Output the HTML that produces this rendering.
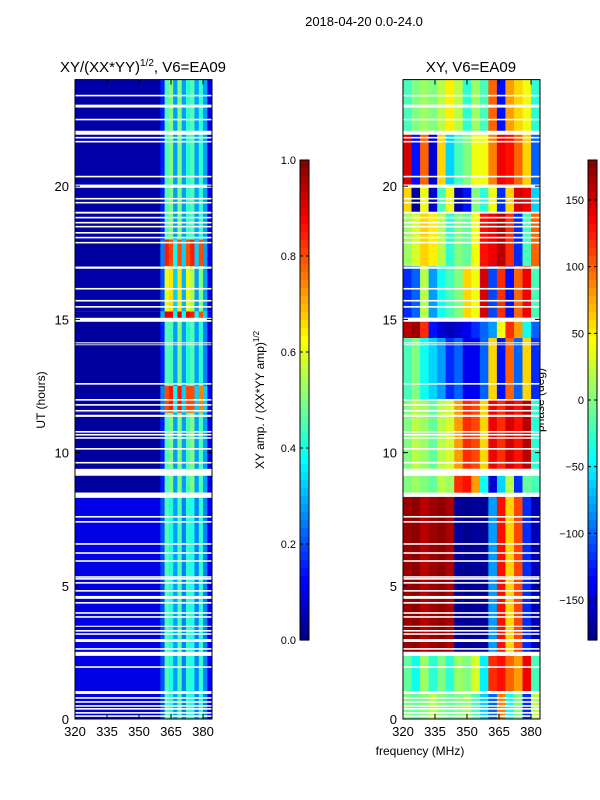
<!DOCTYPE html>
<html><head><meta charset="utf-8"><style>
html,body{margin:0;padding:0;background:#fff;}
svg{display:block;font-family:"Liberation Sans",sans-serif;}
</style></head><body>
<svg id="fig" width="600" height="800" xmlns="http://www.w3.org/2000/svg">
<text x="364" y="26" font-size="13" text-anchor="middle">2018-04-20 0.0-24.0</text>
<text x="143" y="72" font-size="15" text-anchor="middle">XY/(XX*YY)<tspan font-size="10" dy="-6">1/2</tspan><tspan dy="6">, V6=EA09</tspan></text>
<text x="471" y="72" font-size="15" text-anchor="middle">XY, V6=EA09</text>
<text x="420" y="755" font-size="12" text-anchor="middle">frequency (MHz)</text>
<text transform="translate(45,400) rotate(-90)" font-size="12" text-anchor="middle">UT (hours)</text>
<text transform="translate(264,400) rotate(-90)" font-size="12" text-anchor="middle">XY amp. / (XX*YY amp)<tspan font-size="8" dy="-5">1/2</tspan></text>
<text transform="translate(544,400) rotate(-90)" font-size="12" text-anchor="middle">phase (deg)</text>
<g id="layer"></g>
</svg>
<script>
// ---- data ----
const xTicks=[320,335,350,365,380];
const yTicks=[0,5,10,15,20];
const ampTicks=[0.0,0.2,0.4,0.6,0.8,1.0];
const phaseTicks=[-150,-100,-50,0,50,100,150];
// left (amplitude) panel blocks: hours
const leftStart=[0,8.5,11.5,12.5,15.0,15.3,17.0,18.0];
const leftEnd=[8.3,11.5,12.5,15.0,15.3,17.0,18.0,24];
const leftBase=[0.1,0.03,0.03,0.03,0.03,0.04,0.03,0.04];
// 2 MHz bins from 360 to 384
const leftHot=[
[0.2,0.45,0.4,0.28,0.45,0.25,0.42,0.4,0.25,0.42,0.25,0.12],
[0.15,0.45,0.5,0.28,0.5,0.28,0.45,0.5,0.28,0.45,0.28,0.1],
[0.25,0.8,0.85,0.38,0.85,0.33,0.8,0.8,0.33,0.75,0.33,0.12],
[0.15,0.45,0.45,0.28,0.5,0.28,0.42,0.45,0.28,0.42,0.25,0.1],
[0.3,0.9,0.9,0.38,0.9,0.38,0.88,0.85,0.38,0.8,0.33,0.12],
[0.2,0.6,0.65,0.33,0.65,0.3,0.6,0.55,0.28,0.5,0.28,0.1],
[0.25,0.85,0.8,0.38,0.8,0.33,0.8,0.85,0.33,0.8,0.28,0.1],
[0.15,0.45,0.5,0.28,0.5,0.28,0.42,0.45,0.28,0.42,0.28,0.1]];
// right (phase) panel blocks, 4 MHz bins 320..384
const rightStart=[0,1.05,2.52,8.49,9.39,12.0,14.3,15.06,17.0,19.0,20.06,22.0];
const rightEnd=[0.94,2.37,8.34,9.13,12.0,14.3,15.0,17.0,19.0,20.06,22.0,24];
const rightPhase=[
[0,-10,0,20,0,-10,0,10,-20,-60,-100,90,-40,0,-120,20],
[-10,-40,10,-30,0,-30,10,0,30,-50,120,130,100,80,140,-20],
[170,175,160,170,175,165,-170,-175,-170,-172,-80,130,60,110,-120,-160],
[0,10,0,-10,20,10,120,130,80,-40,-150,-60,20,-120,-10,-20],
[0,20,10,-10,20,30,80,120,110,60,140,120,150,130,160,-30],
[-20,0,-40,-60,-80,-120,-100,-140,-140,-100,60,-130,100,-100,60,-120],
[160,170,120,-130,-150,-160,-150,-140,-120,-100,-80,40,120,80,-40,-100],
[-120,-100,20,-80,-40,-20,0,60,40,150,-110,120,-130,100,140,-20],
[10,30,60,50,20,-30,0,-10,40,130,140,160,120,-120,-20,100],
[60,-170,40,-150,-20,40,-160,-130,0,-30,40,-120,60,150,140,-60],
[150,-130,100,-150,60,-60,-20,0,40,40,90,140,130,100,60,-100],
[-20,0,10,0,20,50,20,-30,10,-20,100,-130,80,60,40,-30]];
// flagged (white) time ranges, hours
const gapStart=[23.37,22.95,22.47,21.93,21.79,21.64,20.33,19.94,19.50,19.35,18.97,18.79,18.60,18.45,18.22,18.04,17.85,16.90,16.12,15.67,15.44,14.91,14.03,14.10,12.55,11.95,11.76,11.54,11.34,10.75,10.64,10.52,10.11,9.59,9.13,8.34,7.56,7.37,6.54,6.20,5.90,5.30,5.23,5.08,4.78,4.51,4.33,3.95,3.80,3.46,3.28,3.16,2.89,2.60,2.37,1.92,0.94,0.76,0.61,0.46,0.35,0.20,0.08];
const gapEnd=[23.43,23.06,22.53,22.08,21.85,21.70,20.39,20.06,19.56,19.41,19.04,18.85,18.66,18.51,18.28,18.10,17.91,16.98,16.18,15.73,15.50,15.06,14.06,14.14,12.61,12.01,11.82,11.60,11.42,10.81,10.70,10.58,10.17,9.65,9.39,8.49,7.62,7.43,6.60,6.26,5.96,5.36,5.29,5.14,4.84,4.62,4.39,4.01,3.86,3.50,3.34,3.22,3.00,2.66,2.52,1.98,1.05,0.82,0.67,0.52,0.41,0.26,0.14];

// ---- helpers ----
const NS="http://www.w3.org/2000/svg";
const layer=document.getElementById('layer');
function mk(tag,attrs,parent){const e=document.createElementNS(NS,tag);for(const k in attrs)e.setAttribute(k,attrs[k]);(parent||layer).appendChild(e);return e;}
function cl(v){return Math.max(0,Math.min(1,v));}
function jet(v){v=cl(v);const r=cl(1.5-Math.abs(4*v-3)),g=cl(1.5-Math.abs(4*v-2)),b=cl(1.5-Math.abs(4*v-1));return `rgb(${Math.round(r*255)},${Math.round(g*255)},${Math.round(b*255)})`;}
const F0=320,F1=384.2,T0=0,T1=24,PT=79.6,PB=719;
function xs(px0,px1){return f=>px0+(f-F0)/(F1-F0)*(px1-px0);}
function ys(t){return PB-(t-T0)/(T1-T0)*(PB-PT);}

function panel(name,px0,px1,cells){
  const x=xs(px0,px1);
  const g=mk('g',{});
  
  
  cells(g,x);
  for(let i=0;i<gapStart.length;i++){
    const r=mk('rect',{x:px0,y:ys(gapEnd[i]),width:px1-px0,height:ys(gapStart[i])-ys(gapEnd[i]),fill:'#fff'},g);
    
    
  }
  const fr=mk('rect',{x:px0,y:PT,width:px1-px0,height:PB-PT,fill:'none',stroke:'#000','stroke-width':1},g);
  
  
  xTicks.forEach(v=>{
    const xx=x(v);
    mk('line',{x1:xx,x2:xx,y1:PB,y2:PB-5,stroke:'#000'},g);
    mk('line',{x1:xx,x2:xx,y1:PT,y2:PT+5,stroke:'#000'},g);
    const t=mk('text',{x:xx,y:PB+17,'font-size':13,'text-anchor':'middle'},g);t.textContent=v;
    
    
  });
  yTicks.forEach(v=>{
    const yy=ys(v);
    mk('line',{x1:px0,x2:px0+5,y1:yy,y2:yy,stroke:'#000'},g);
    mk('line',{x1:px1,x2:px1-5,y1:yy,y2:yy,stroke:'#000'},g);
    const t=mk('text',{x:px0-6,y:yy+5,'font-size':13,'text-anchor':'end'},g);t.textContent=v;
    
    
  });
}

panel('amplitude-heatmap',75,212,(g,x)=>{
  for(let b=0;b<leftStart.length;b++){
    const y1=ys(leftEnd[b]),y2=ys(leftStart[b]);
    const c=mk('rect',{x:x(320),y:y1,width:x(360)-x(320)+0.5,height:y2-y1,fill:jet(leftBase[b])},g);
    
    
    leftHot[b].forEach((v,i)=>{
      const f=360+2*i;
      const r=mk('rect',{x:x(f),y:y1,width:x(f+2)-x(f)+0.5,height:y2-y1,fill:jet(v)},g);
      
      
    });
  }
});
panel('phase-heatmap',403,540,(g,x)=>{
  for(let b=0;b<rightStart.length;b++){
    const y1=ys(rightEnd[b]),y2=ys(rightStart[b]);
    rightPhase[b].forEach((v,i)=>{
      const f=320+4*i;
      const r=mk('rect',{x:x(f),y:y1,width:x(Math.min(f+4,F1))-x(f)+0.5,height:y2-y1,fill:jet((v+180)/360)},g);
      
      
    });
  }
});

function colorbar(name,cx,vmin,vmax,ticks,fmt){
  const g=mk('g',{});
  
  
  const top=160,bot=640,w=9,n=60;
  for(let i=0;i<n;i++){
    const y=bot-(i+1)*(bot-top)/n;
    mk('rect',{x:cx,y:y,width:w,height:(bot-top)/n+0.6,fill:jet((i+0.5)/n)},g);
  }
  mk('rect',{x:cx,y:top,width:w,height:bot-top,fill:'none',stroke:'#000'},g);
  ticks.forEach(v=>{
    const y=bot-(v-vmin)/(vmax-vmin)*(bot-top);
    mk('line',{x1:cx,x2:cx+3,y1:y,y2:y,stroke:'#000'},g);
    mk('line',{x1:cx+w,x2:cx+w-3,y1:y,y2:y,stroke:'#000'},g);
    const t=mk('text',{x:cx-4,y:y+4,'font-size':11,'text-anchor':'end'},g);t.textContent=fmt(v);
    
    
  });
}
colorbar('amp-colorbar',300,0,1,ampTicks,v=>v.toFixed(1));
colorbar('phase-colorbar',588,-180,180,phaseTicks,v=>v<0?'\u2212'+Math.abs(v):String(v));
</script>
</body></html>
